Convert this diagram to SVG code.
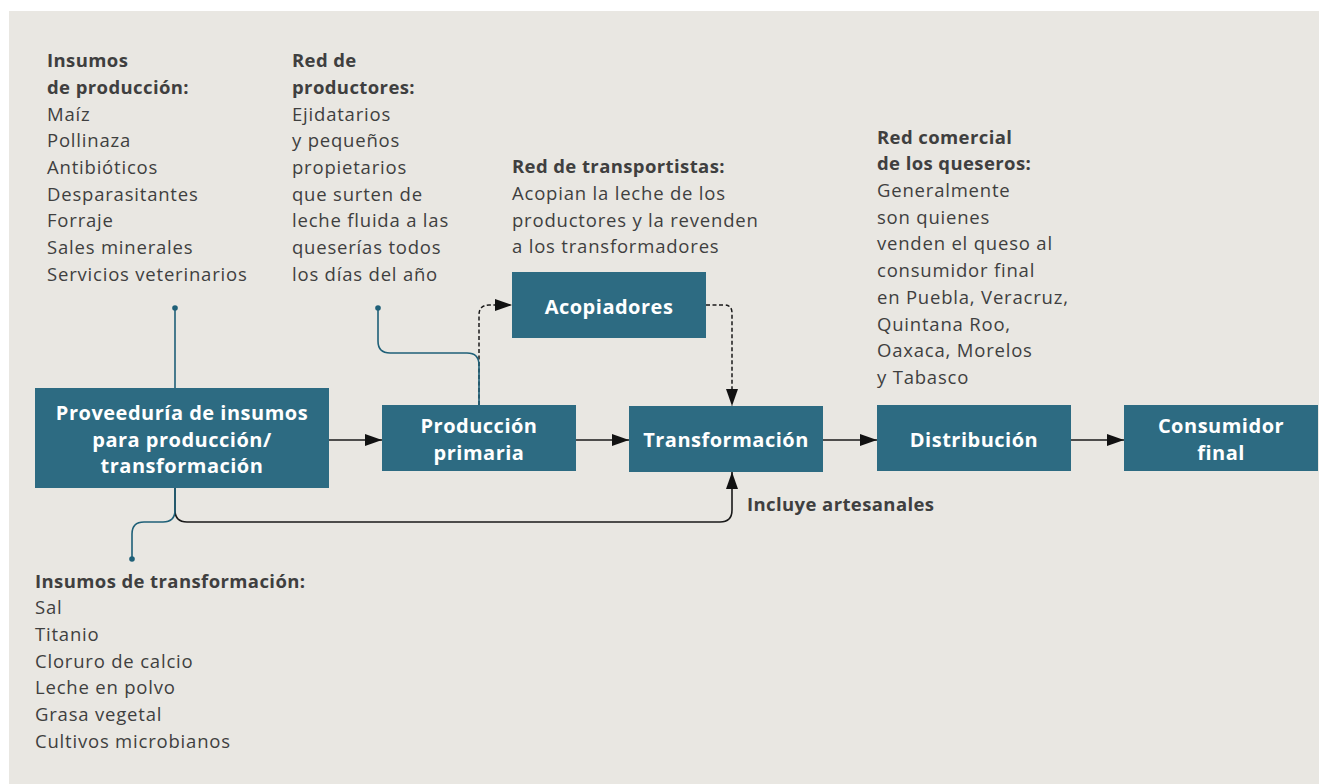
<svg xmlns="http://www.w3.org/2000/svg" width="1319" height="784" viewBox="0 0 1319 784">
  <style>
    .bg { fill: #e9e7e2; }
    .node rect { fill: #2d6b82; }
    .node text { fill: #ffffff; font-family: "Open Sans", "Liberation Sans", sans-serif; font-weight: 700; font-size: 20px; letter-spacing: 0.5px; text-anchor: middle; }
    .note { fill: #3f3f3f; font-family: "Open Sans", "Liberation Sans", sans-serif; font-size: 18.5px; letter-spacing: 0.8px; }
    .note .h { font-weight: 700; letter-spacing: 0.4px; }
    .flow { fill: none; stroke: #1a1a1a; stroke-width: 1.6; }
    .dash { fill: none; stroke: #1a1a1a; stroke-width: 1.5; stroke-dasharray: 4 2.5; }
    .lead { fill: none; stroke: #1f6078; stroke-width: 1.6; }
    .dot { fill: #1f6078; }
  </style>
  <defs>
    <marker id="arrow" viewBox="0 0 17 12" refX="17" refY="6" markerWidth="17" markerHeight="12" markerUnits="userSpaceOnUse" orient="auto">
      <path d="M0,0 L17,6 L0,12 Z" fill="#111111"/>
    </marker>
  </defs>

  <!-- panel -->
  <rect class="bg" x="9" y="11" width="1310" height="773"/>

  <!-- connectors -->
  <g id="connectors">
    <!-- main chain -->
    <line class="flow" x1="329" y1="440" x2="382" y2="440" marker-end="url(#arrow)"/>
    <line class="flow" x1="576" y1="440" x2="629" y2="440" marker-end="url(#arrow)"/>
    <line class="flow" x1="823" y1="440" x2="877" y2="440" marker-end="url(#arrow)"/>
    <line class="flow" x1="1071" y1="440" x2="1124" y2="440" marker-end="url(#arrow)"/>
    <!-- supply of transformation inputs -->
    <path class="flow" d="M175,488 V510 Q175,522 187,522 H720 Q732,522 732,510 V472" marker-end="url(#arrow)"/>
    <!-- collectors route -->
    <path class="dash" d="M479,405 V315 Q479,305 489,305 H512" marker-end="url(#arrow)"/>
    <path class="dash" d="M706,305 H724 Q732,305 732,313 V406" marker-end="url(#arrow)"/>
    <!-- note leaders -->
    <line class="lead" x1="175" y1="308" x2="175" y2="388"/>
    <circle class="dot" cx="175" cy="308" r="2.8"/>
    <path class="lead" d="M378,308 V341 Q378,353 390,353 H467 Q479,353 479,365 V405"/>
    <circle class="dot" cx="378" cy="308" r="2.8"/>
    <path class="lead" d="M175,488 V510 Q175,522 163,522 H144 Q132,522 132,534 V559"/>
    <circle class="dot" cx="132" cy="559" r="2.8"/>
  </g>

  <!-- nodes -->
  <g id="proveeduria" class="node">
    <rect x="35" y="388" width="294" height="100"/>
    <text x="182" y="420">Proveeduría de insumos</text>
    <text x="182" y="447">para producción/</text>
    <text x="182" y="473">transformación</text>
  </g>
  <g id="produccion" class="node">
    <rect x="382" y="405" width="194" height="66"/>
    <text x="479" y="433">Producción</text>
    <text x="479" y="460">primaria</text>
  </g>
  <g id="acopiadores" class="node">
    <rect x="512" y="272" width="194" height="66"/>
    <text x="609" y="314">Acopiadores</text>
  </g>
  <g id="transformacion" class="node">
    <rect x="629" y="406" width="194" height="66"/>
    <text x="726" y="447">Transformación</text>
  </g>
  <g id="distribucion" class="node">
    <rect x="877" y="405" width="194" height="66"/>
    <text x="974" y="447">Distribución</text>
  </g>
  <g id="consumidor" class="node">
    <rect x="1124" y="405" width="194" height="66"/>
    <text x="1221" y="433">Consumidor</text>
    <text x="1221" y="460">final</text>
  </g>

  <!-- notes -->
  <g id="insumos-produccion" class="note">
    <text x="47" y="67" class="h">Insumos</text>
    <text x="47" y="94" class="h">de producción:</text>
    <text x="47" y="121">Maíz</text>
    <text x="47" y="147">Pollinaza</text>
    <text x="47" y="174">Antibióticos</text>
    <text x="47" y="201">Desparasitantes</text>
    <text x="47" y="227">Forraje</text>
    <text x="47" y="254">Sales minerales</text>
    <text x="47" y="281">Servicios veterinarios</text>
  </g>
  <g id="red-productores" class="note">
    <text x="292" y="67" class="h">Red de</text>
    <text x="292" y="94" class="h">productores:</text>
    <text x="292" y="121">Ejidatarios</text>
    <text x="292" y="147">y pequeños</text>
    <text x="292" y="174">propietarios</text>
    <text x="292" y="201">que surten de</text>
    <text x="292" y="227">leche fluida a las</text>
    <text x="292" y="254">queserías todos</text>
    <text x="292" y="281">los días del año</text>
  </g>
  <g id="red-transportistas" class="note">
    <text x="512" y="173" class="h">Red de transportistas:</text>
    <text x="512" y="200">Acopian la leche de los</text>
    <text x="512" y="227">productores y la revenden</text>
    <text x="512" y="253">a los transformadores</text>
  </g>
  <g id="red-comercial" class="note">
    <text x="877" y="144" class="h">Red comercial</text>
    <text x="877" y="170" class="h">de los queseros:</text>
    <text x="877" y="197">Generalmente</text>
    <text x="877" y="224">son quienes</text>
    <text x="877" y="250">venden el queso al</text>
    <text x="877" y="277">consumidor final</text>
    <text x="877" y="304">en Puebla, Veracruz,</text>
    <text x="877" y="331">Quintana Roo,</text>
    <text x="877" y="357">Oaxaca, Morelos</text>
    <text x="877" y="384">y Tabasco</text>
  </g>
  <g id="incluye" class="note">
    <text x="747" y="511" class="h">Incluye artesanales</text>
  </g>
  <g id="insumos-transformacion" class="note">
    <text x="35" y="588" class="h">Insumos de transformación:</text>
    <text x="35" y="614">Sal</text>
    <text x="35" y="641">Titanio</text>
    <text x="35" y="668">Cloruro de calcio</text>
    <text x="35" y="694">Leche en polvo</text>
    <text x="35" y="721">Grasa vegetal</text>
    <text x="35" y="748">Cultivos microbianos</text>
  </g>
</svg>
